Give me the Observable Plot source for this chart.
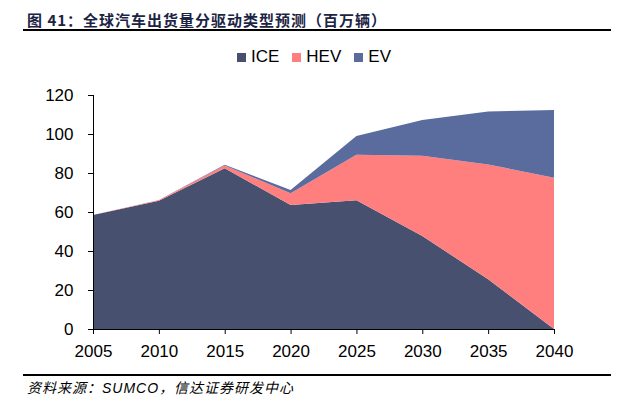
<!DOCTYPE html>
<html><head><meta charset="utf-8">
<script src="https://cdn.jsdelivr.net/npm/d3@7"></script>
<script src="https://cdn.jsdelivr.net/npm/@observablehq/plot@0.6"></script>
<style>
body{margin:0;background:#fff;width:640px;height:408px;position:relative;overflow:hidden;font-family:"Liberation Sans",Arial,sans-serif;}
#title{position:absolute;left:27px;top:9px;font:bold 15px "Noto Sans CJK SC",sans-serif;letter-spacing:1px;color:#1b2444;white-space:nowrap;}
.hr{position:absolute;left:23px;width:588px;height:2px;background:#000;}
#legend{position:absolute;left:237px;top:47px;display:flex;align-items:center;font-size:17px;color:#000;white-space:nowrap;}
#legend span.sw{display:inline-block;width:9px;height:9px;margin-right:5px;}
#legend .it{display:flex;align-items:center;margin-right:13px;}
#chart{position:absolute;left:0;top:80px;}
#src{position:absolute;left:27px;top:377px;font:italic 14px "Liberation Sans",Arial,sans-serif;letter-spacing:1px;color:#000;white-space:nowrap;}
#src .cj{font-family:"Noto Sans CJK SC",sans-serif;font-style:italic;}
</style></head><body>
<div id="title">图 41：全球汽车出货量分驱动类型预测（百万辆）</div>
<div class="hr" style="top:29px"></div>
<div id="legend"></div>
<div id="chart"></div>
<div class="hr" style="top:374px"></div>
<div id="src"><span class="cj">资料来源：</span>SUMCO<span class="cj">，信达证券研发中心</span></div>
<script>
const years = [2005, 2010, 2015, 2020, 2025, 2030, 2035, 2040];
const series = ["ICE", "HEV", "EV"];
const ice = [58.5, 65.8, 82.4, 63.6, 66.0, 47.7, 25.5, 0];
const hev = [0, 0.3, 1.5, 6.0, 23.4, 41.2, 58.9, 77.6];
const ev  = [0, 0, 0.3, 1.7, 9.6, 18.3, 27.2, 34.7];
const colors = ["#47506e", "#ff7f7f", "#5a6b9d"];
const yTicks = [0, 20, 40, 60, 80, 100, 120];

const vals = [ice, hev, ev];
const data = [];
series.forEach((s, i) => years.forEach((y, j) => data.push({year: y, type: s, value: vals[i][j]})));

const leg = document.getElementById("legend");
series.forEach((s, i) => {
  const d = document.createElement("div"); d.className = "it";
  d.innerHTML = `<span class="sw" style="background:${colors[i]}"></span>${s}`;
  leg.appendChild(d);
});

const chart = Plot.plot({
  width: 640, height: 290,
  marginTop: 15, marginBottom: 41, marginLeft: 93, marginRight: 86,
  style: {fontFamily: "Liberation Sans, Arial, sans-serif", fontSize: "17px", color: "#000"},
  x: {domain: [2005, 2040], ticks: years, tickFormat: d => String(d), tickSize: 5, tickPadding: 10, label: null},
  y: {domain: [0, 120], ticks: yTicks, tickSize: 5, tickPadding: 15, label: null},
  color: {domain: series, range: colors},
  marks: [
    Plot.areaY(data, {x: "year", y: "value", fill: "type", order: series, curve: "linear"}),
    Plot.ruleX([2005], {stroke: "#000", strokeWidth: 1}),
    Plot.ruleY([0], {stroke: "#000", strokeWidth: 1})
  ]
});
document.getElementById("chart").appendChild(chart);
</script>
</body></html>
